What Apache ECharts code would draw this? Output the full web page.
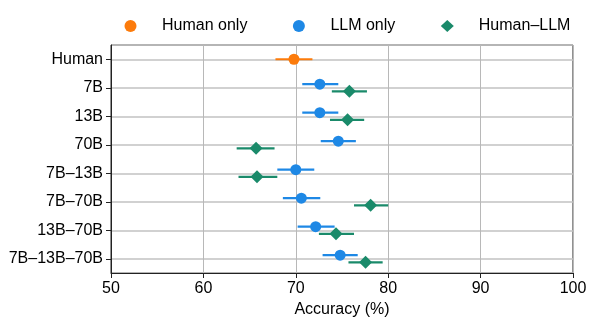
<!DOCTYPE html>
<html>
<head>
<meta charset="utf-8">
<script src="https://cdn.jsdelivr.net/npm/echarts@6/dist/echarts.min.js"></script>
<style>html,body{margin:0;padding:0;background:#fff}#c{width:594px;height:323px}</style>
</head>
<body>
<div id="c"></div>
<script>
const categories = ['Human', '7B', '13B', '70B', '7B–13B', '7B–70B', '13B–70B', '7B–13B–70B'];
const xTicks = [50, 60, 70, 80, 90, 100];
const humanMean = [69.8, null, null, null, null, null, null, null];
const humanLow  = [67.8, null, null, null, null, null, null, null];
const humanHigh = [71.8, null, null, null, null, null, null, null];
const llmMean = [null, 72.6, 72.6, 74.6, 70.0, 70.6, 72.15, 74.8];
const llmLow  = [null, 70.7, 70.7, 72.7, 68.0, 68.6, 70.2, 72.9];
const llmHigh = [null, 74.6, 74.6, 76.5, 72.0, 72.65, 74.2, 76.7];
const hlMean = [null, 75.8, 75.6, 65.7, 65.8, 78.1, 74.35, 77.55];
const hlLow  = [null, 73.9, 73.7, 63.6, 63.8, 76.3, 72.5, 75.7];
const hlHigh = [null, 77.7, 77.4, 67.7, 68.0, 80.0, 76.3, 79.4];

const COL_H = '#fc7b0b', COL_L = '#1e88e5', COL_HL = '#1a8a6a';
const OFF = 0.125;
const FONT = 'Liberation Sans, Arial, sans-serif';

function pts(mean, off) {
  const out = [];
  mean.forEach((v, i) => { if (v != null) out.push([v, i + off]); });
  return out;
}
function bars(low, high, off) {
  const out = [];
  low.forEach((v, i) => { if (v != null) out.push([v, high[i], i + off]); });
  return out;
}
function lineSeries(name, data, color, width, z) {
  return {
    type: 'custom', name: name, xAxisIndex: 0, yAxisIndex: 1, z: z,
    silent: true, clip: false,
    renderItem: function (params, api) {
      const a = api.coord([api.value(0), api.value(2)]);
      const b = api.coord([api.value(1), api.value(2)]);
      return { type: 'line', shape: { x1: a[0], y1: a[1], x2: b[0], y2: b[1] },
               style: { stroke: color, lineWidth: width } };
    },
    encode: { x: [0, 1], y: 2 },
    data: data
  };
}

const chart = echarts.init(document.getElementById('c'), null, { renderer: 'canvas' });
chart.setOption({
  animation: false,
  textStyle: { fontFamily: FONT },
  grid: { left: 111, right: 21, top: 45, bottom: 50, show: true, borderColor: '#222', borderWidth: 1, backgroundColor: 'rgba(0,0,0,0)' },
  legend: {
    left: 119.5, top: 13, itemWidth: 13, itemHeight: 12, itemGap: 45.5,
    textStyle: { fontSize: 16, color: '#000', fontFamily: FONT, padding: [0, 0, 0, 20] },
    data: [
      { name: 'Human only', icon: 'circle' },
      { name: 'LLM only', icon: 'circle' },
      { name: 'Human–LLM', icon: 'diamond' }
    ]
  },
  xAxis: {
    type: 'value', min: xTicks[0], max: xTicks[xTicks.length - 1], interval: 10,
    name: 'Accuracy (%)', nameLocation: 'middle', nameGap: 29,
    nameTextStyle: { fontSize: 16, color: '#000', fontFamily: FONT },
    axisLine: { show: true, onZero: false, lineStyle: { color: '#222', width: 1 } },
    axisTick: { show: true, inside: false, length: 5, lineStyle: { color: '#222' } },
    axisLabel: { fontSize: 16, color: '#000', margin: 8, fontFamily: FONT },
    splitLine: { show: true, lineStyle: { color: '#b8b8b8', width: 1 } }
  },
  yAxis: [
    {
      type: 'category', data: categories, inverse: true,
      axisLine: { show: true, onZero: false, lineStyle: { color: '#222', width: 1 } },
      axisTick: { show: true, alignWithLabel: true, length: 5, lineStyle: { color: '#222' } },
      axisLabel: { fontSize: 16, color: '#000', margin: 8, fontFamily: FONT },
      splitLine: { show: false }
    },
    {
      type: 'value', min: -0.5, max: 7.5, splitNumber: 8, inverse: true, show: true, position: 'right',
      axisLine: { show: false, onZero: false },
      axisTick: { show: false },
      axisLabel: { show: false },
      splitLine: { show: true, lineStyle: { color: '#c2c2c2', width: 1.5 } }
    }
  ],
  series: [
    lineSeries('eb-h', bars(humanLow, humanHigh, 0), COL_H, 2.2, 3),
    lineSeries('eb-l', bars(llmLow, llmHigh, -OFF), COL_L, 2.2, 3),
    lineSeries('eb-hl', bars(hlLow, hlHigh, OFF), COL_HL, 2.2, 3),
    { type: 'scatter', name: 'Human only', yAxisIndex: 1, z: 5, symbol: 'circle', symbolSize: 11,
      itemStyle: { color: COL_H, opacity: 1 }, data: pts(humanMean, 0) },
    { type: 'scatter', name: 'LLM only', yAxisIndex: 1, z: 5, symbol: 'circle', symbolSize: 11,
      itemStyle: { color: COL_L, opacity: 1 }, data: pts(llmMean, -OFF) },
    { type: 'scatter', name: 'Human–LLM', yAxisIndex: 1, z: 5, symbol: 'diamond', symbolSize: 13,
      itemStyle: { color: COL_HL, opacity: 1 }, data: pts(hlMean, OFF) }
  ]
});
</script>
</body>
</html>
